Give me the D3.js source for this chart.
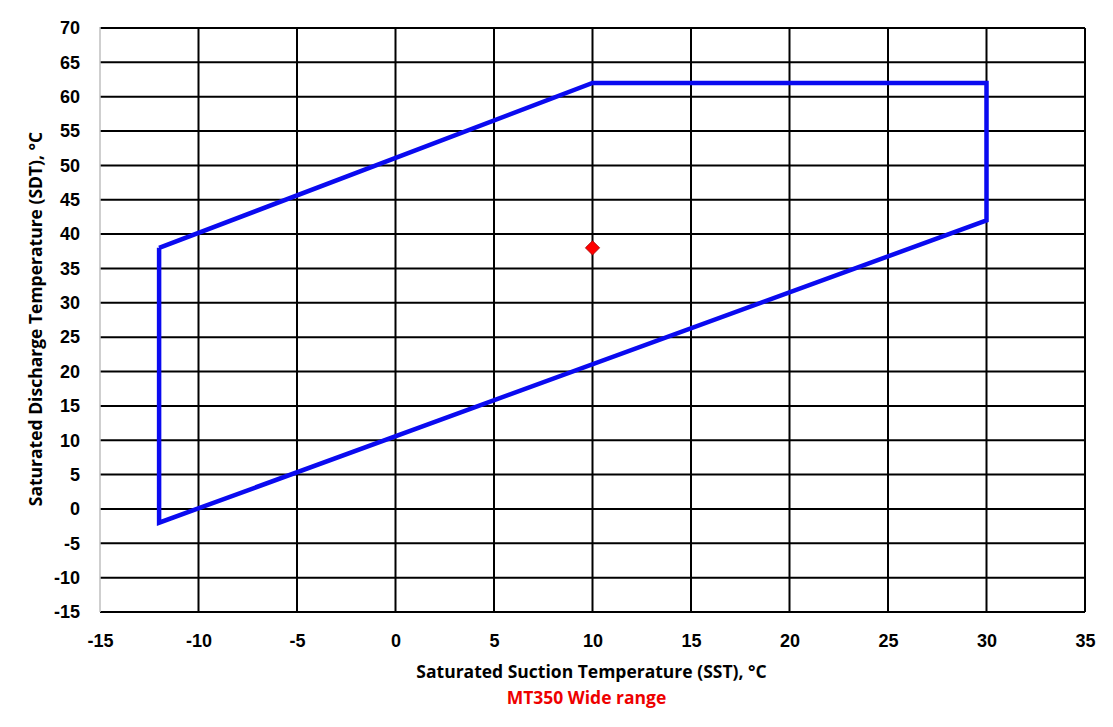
<!DOCTYPE html>
<html><head><meta charset="utf-8">
<script src="https://cdn.jsdelivr.net/npm/d3@7"></script>
<style>body{margin:0;background:#fff}svg{display:block}</style>
</head><body>
<svg id="c" width="1113" height="727"></svg>
<script>
const envelopeSST = [-12, 10, 30, 30, -12, -12];
const envelopeSDT = [38, 62, 62, 42, -2, 38];
const pointSST = [10];
const pointSDT = [38];
const xTicks = [-15,-10,-5,0,5,10,15,20,25,30,35];
const yTicks = [-15,-10,-5,0,5,10,15,20,25,30,35,40,45,50,55,60,65,70];
const xTitle = "Saturated Suction Temperature (SST), °C";
const yTitle = "Saturated Discharge Temperature (SDT), °C";
const subTitle = "MT350 Wide range";

const svg = d3.select("#c");
const L=100,R=1085,T=28,B=612;
const x = d3.scaleLinear().domain([-15,35]).range([L,R]);
const y = d3.scaleLinear().domain([-15,70]).range([B,T]);

const g = svg.append("g");
g.selectAll(".hg").data(yTicks).enter().append("line")
 .attr("x1",L).attr("x2",R).attr("y1",d=>y(d)).attr("y2",d=>y(d))
 .attr("stroke","#000").attr("stroke-width",2);
g.selectAll(".vg").data(xTicks.slice(1)).enter().append("line")
 .attr("y1",T).attr("y2",B).attr("x1",d=>x(d)).attr("x2",d=>x(d))
 .attr("stroke","#000").attr("stroke-width",2);
g.append("line").attr("x1",L).attr("x2",L).attr("y1",T-1).attr("y2",B)
 .attr("stroke","#bfbfbf").attr("stroke-width",1.5);

const tickFont = "'Liberation Sans', Arial, sans-serif";
const fmt = d => String(d);
const yAxis = d3.axisLeft(y).tickValues(yTicks).tickFormat(fmt).tickSize(0).tickPadding(20);
svg.append("g").attr("transform",`translate(${L},0)`).call(yAxis)
 .call(s=>s.select(".domain").remove())
 .selectAll("text").attr("font-family",tickFont).attr("font-weight","bold").attr("font-size",18).attr("fill","#000");
const xAxis = d3.axisBottom(x).tickValues(xTicks).tickFormat(fmt).tickSize(0).tickPadding(22);
svg.append("g").attr("transform",`translate(0,${B})`).call(xAxis)
 .call(s=>s.select(".domain").remove())
 .selectAll("text").attr("font-family",tickFont).attr("font-weight","bold").attr("font-size",18).attr("fill","#000");

const pts = envelopeSST.map((v,i)=>[v,envelopeSDT[i]]);
svg.append("path").datum(pts)
 .attr("d", d3.line().x(d=>x(d[0])).y(d=>y(d[1])))
 .attr("fill","none").attr("stroke","#0a0af0").attr("stroke-width",4.5).attr("stroke-linejoin","miter");

svg.selectAll(".pt").data(pointSST.map((v,i)=>[v,pointSDT[i]])).enter().append("path")
 .attr("transform",d=>`translate(${x(d[0])},${y(d[1])})`)
 .attr("d", d3.symbol().type(d3.symbolDiamond2).size(130))
 .attr("fill","#ff0000").attr("stroke","#a00000").attr("stroke-width",0.8);

const titleFont = "'Open Sans', 'Noto Sans', sans-serif";
svg.append("text").attr("x",(L+R)/2-1).attr("y",678).attr("text-anchor","middle")
 .attr("font-family",titleFont).attr("font-weight","bold").attr("font-size",17.5).attr("fill","#000").text(xTitle);
svg.append("text").attr("x",(L+R)/2-6).attr("y",704).attr("text-anchor","middle")
 .attr("font-family",titleFont).attr("font-weight","bold").attr("font-size",17.5).attr("fill","#ee0000").text(subTitle);
svg.append("text").attr("transform",`translate(42,${(T+B)/2-1}) rotate(-90)`).attr("text-anchor","middle")
 .attr("font-family",titleFont).attr("font-weight","bold").attr("font-size",17.5).attr("fill","#000").text(yTitle);
</script>
</body></html>
